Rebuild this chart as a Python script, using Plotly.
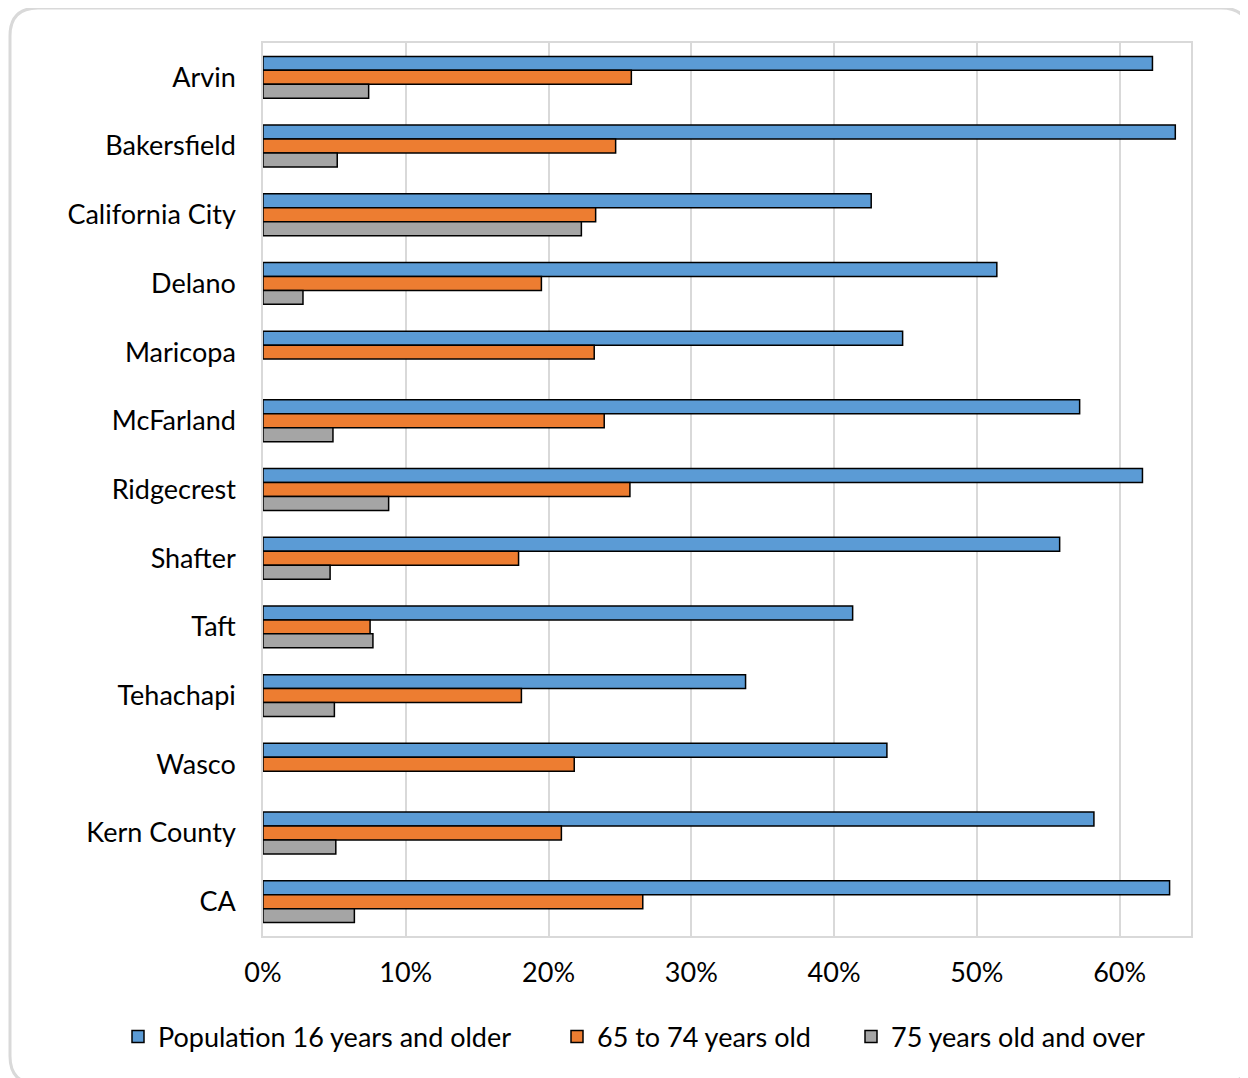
import plotly.graph_objects as go

categories = ["Arvin", "Bakersfield", "California City", "Delano", "Maricopa",
              "McFarland", "Ridgecrest", "Shafter", "Taft", "Tehachapi",
              "Wasco", "Kern County", "CA"]
pop16 = [0.623, 0.639, 0.426, 0.514, 0.448, 0.572, 0.616, 0.558, 0.413,
         0.338, 0.437, 0.582, 0.635]
age65_74 = [0.258, 0.247, 0.233, 0.195, 0.232, 0.239, 0.257, 0.179, 0.075,
            0.181, 0.218, 0.209, 0.266]
age75 = [0.074, 0.052, 0.223, 0.028, None, 0.049, 0.088, 0.047, 0.077,
         0.050, None, 0.051, 0.064]
series_names = ["Population 16 years and older", "65 to 74 years old",
                "75 years old and over"]
tick_vals = [0, 0.1, 0.2, 0.3, 0.4, 0.5, 0.6]
tick_text = ["0%", "10%", "20%", "30%", "40%", "50%", "60%"]

colors = ["#5B9BD5", "#ED7D31", "#A5A5A5"]
FONT = "Lato, Open Sans, sans-serif"
FS = 27

fig = go.Figure()
legends = ["legend", "legend2", "legend3"]
for vals, name, col, lg in zip([pop16, age65_74, age75], series_names, colors, legends):
    fig.add_trace(go.Bar(
        y=categories, x=vals, name=name, orientation="h",
        marker=dict(color=col, line=dict(color="#000000", width=1.5)),
        legend=lg, showlegend=True,
    ))

# page body adds an 8px offset; compensate
OFF = 8
W, H = 1248, 1078
L, R, T, B = 263 - OFF, 1191 - OFF, 43 - OFF, 936 - OFF
pw, ph = R - L, B - T

def px(x):
    return (x - OFF - L) / pw

def py(y):
    return (B - (y - OFF)) / ph

# outer rounded border
x0, x1, y0, y1 = px(10), px(1249), py(8), py(1084)
rx, ry = 28 / pw, 28 / ph
path = (f"M{x0+rx},{y0} L{x1-rx},{y0} Q{x1},{y0} {x1},{y0-ry} "
        f"L{x1},{y1+ry} Q{x1},{y1} {x1-rx},{y1} L{x0+rx},{y1} "
        f"Q{x0},{y1} {x0},{y1+ry} L{x0},{y0-ry} Q{x0},{y0} {x0+rx},{y0} Z")

legend_common = dict(orientation="h", yanchor="middle", xanchor="left",
                     xref="container", yref="container",
                     font=dict(family=FONT, size=FS, color="#000000"),
                     bgcolor="rgba(0,0,0,0)", itemwidth=30)
ly = (H - (1037 - OFF)) / H

fig.update_layout(
    width=W, height=H, showlegend=True,
    margin=dict(l=L, r=W - R, t=T, b=H - B, autoexpand=False),
    paper_bgcolor="white", plot_bgcolor="white",
    barmode="group", bargap=0.39, bargroupgap=0,
    font=dict(family=FONT, size=FS, color="#000000"),
    xaxis=dict(range=[0, 0.65], tickvals=tick_vals, ticktext=tick_text,
               showgrid=True, gridcolor="#d9d9d9", gridwidth=1.5,
               showline=True, linecolor="#d9d9d9", linewidth=1.5, mirror=True,
               zeroline=False, ticks="", ticklabelstandoff=12,
               tickfont=dict(family=FONT, size=FS, color="#000000"),
               fixedrange=True),
    yaxis=dict(autorange="reversed", showgrid=False, showline=True,
               linecolor="#d9d9d9", linewidth=1.5, mirror=True,
               ticks="", ticklabelstandoff=20,
               tickfont=dict(family=FONT, size=FS, color="#000000"),
               fixedrange=True),
    legend=dict(x=(118 - OFF) / W, y=ly, **legend_common),
    legend2=dict(x=(557 - OFF) / W, y=ly, **legend_common),
    legend3=dict(x=(851 - OFF) / W, y=ly, **legend_common),
    shapes=[dict(type="path", xref="paper", yref="paper", path=path,
                 line=dict(color="#d9d9d9", width=3), fillcolor="rgba(0,0,0,0)",
                 layer="below")],
)

fig.write_html("out.html")
